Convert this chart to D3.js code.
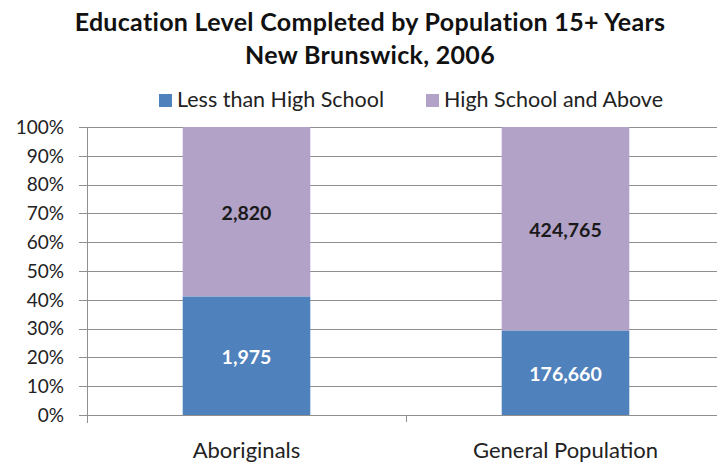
<!DOCTYPE html>
<html>
<head>
<meta charset="utf-8">
<script src="https://cdn.jsdelivr.net/npm/d3@7"></script>
<style>
  html, body { margin: 0; padding: 0; background: #fff; }
  svg { display: block; font-family: Lato, "Open Sans", "Liberation Sans", sans-serif; }
</style>
</head>
<body>
<svg id="chart" width="722" height="466"></svg>
<script>
// Population 15+ by highest education level completed, New Brunswick 2006
const categories = ["Aboriginals", "General Population"];
const seriesNames = ["Less than High School", "High School and Above"];
const lessThanHighSchool = [1975, 176660];
const highSchoolAndAbove = [2820, 424765];
const tickLabels = ["0%", "10%", "20%", "30%", "40%", "50%", "60%", "70%", "80%", "90%", "100%"];
const colors = ["#4F81BD", "#B2A2C7"];
const titleLines = ["Education Level Completed by Population 15+ Years", "New Brunswick, 2006"];

const svg = d3.select("#chart");
const margin = { left: 87, right: -3, top: 127, bottom: 51 };
const W = 722, H = 466;

const x = d3.scaleBand().domain(categories).range([margin.left, W - margin.right]).paddingInner(0.6).paddingOuter(0.3);
const y = d3.scaleLinear().domain([0, 1]).range([H - margin.bottom, margin.top]);

// stacked shares per category
const rows = categories.map((c, i) => {
  const a = lessThanHighSchool[i], b = highSchoolAndAbove[i], t = a + b;
  return { cat: c, values: [a, b], shares: [a / t, b / t] };
});

// gridlines with short tick stubs left of the axis
const ticks = d3.range(0, 1.0001, 0.1);
svg.append("g").selectAll("line").data(ticks).join("line")
  .attr("x1", margin.left - 8).attr("x2", 717)
  .attr("y1", d => Math.round(y(d)) + 0.5).attr("y2", d => Math.round(y(d)) + 0.5)
  .attr("stroke", "#8f8f8f").attr("stroke-width", 1);

// y tick labels
svg.append("g").selectAll("text").data(ticks).join("text")
  .attr("x", 64).attr("y", d => y(d)).attr("dy", "0.36em")
  .attr("text-anchor", "end").attr("font-size", 19).attr("fill", "#222")
  .text((d, i) => tickLabels[i]);

// y axis line
svg.append("line").attr("x1", margin.left + 0.5).attr("x2", margin.left + 0.5)
  .attr("y1", y(1)).attr("y2", y(0) + 8).attr("stroke", "#8f8f8f");

// category separator tick on x axis
const xDivider = (x(categories[0]) + x.bandwidth() + x(categories[1])) / 2;
svg.append("line").attr("x1", Math.round(xDivider) + 0.5).attr("x2", Math.round(xDivider) + 0.5)
  .attr("y1", y(0)).attr("y2", y(0) + 7).attr("stroke", "#8f8f8f");

// bars
const barG = svg.append("g");
rows.forEach(r => {
  let acc = 0;
  r.shares.forEach((s, k) => {
    const y0 = y(acc), y1 = y(acc + s);
    barG.append("rect")
      .attr("x", x(r.cat)).attr("width", x.bandwidth())
      .attr("y", y1).attr("height", y0 - y1)
      .attr("fill", colors[k]);
    barG.append("text")
      .attr("x", x(r.cat) + x.bandwidth() / 2).attr("y", (y0 + y1) / 2 + 1).attr("dy", "0.36em")
      .attr("text-anchor", "middle").attr("font-size", 19.5).attr("font-weight", "bold")
      .attr("fill", k === 0 ? "#fff" : "#1a1a1a")
      .text(d3.format(",")(r.values[k]));
    acc += s;
  });
});

// category labels
svg.append("g").selectAll("text").data(categories).join("text")
  .attr("x", d => x(d) + x.bandwidth() / 2).attr("y", 458)
  .attr("text-anchor", "middle").attr("font-size", 22).attr("fill", "#222")
  .text(d => d);

// title
svg.append("g").selectAll("text").data(titleLines).join("text")
  .attr("x", 370).attr("y", (d, i) => 31 + i * 33)
  .attr("text-anchor", "middle").attr("font-size", 25).attr("font-weight", "bold")
  .attr("letter-spacing", 0.3).attr("fill", "#111")
  .text(d => d);

// legend
const legendX = [159, 426];
const lg = svg.append("g").selectAll("g").data(seriesNames).join("g")
  .attr("transform", (d, i) => `translate(${legendX[i]},94)`);
lg.append("rect").attr("width", 13).attr("height", 13).attr("fill", (d, i) => colors[i]);
lg.append("text").attr("x", 18).attr("y", 13)
  .attr("font-size", 21.5).attr("fill", "#222").text(d => d);
</script>
</body>
</html>
